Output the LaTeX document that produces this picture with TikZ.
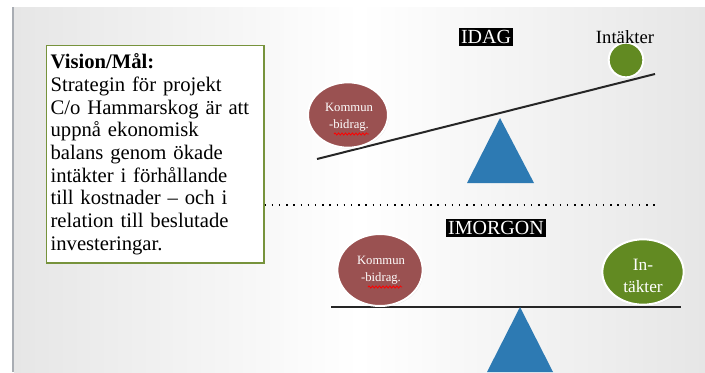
\documentclass[tikz,border=0pt]{standalone}
\usepackage{fontspec}
\setmainfont{Liberation Serif}
\usepackage{tikz}
\usetikzlibrary{shapes.geometric, positioning, shadows, decorations.pathmorphing}
\definecolor{boxgreen}{HTML}{77933C}
\definecolor{weightred}{HTML}{9A5151}
\definecolor{weightgreen}{HTML}{628A22}
\definecolor{pivotblue}{HTML}{2D7AB3}
\definecolor{slidegray}{HTML}{E6E6E6}
\definecolor{edgegray}{HTML}{A9ADB3}
\tikzstyle{vision} = [rectangle, draw=boxgreen, line width=0.9pt, fill=white, text width=157pt, minimum width=163pt, minimum height=163pt, align=left, inner sep=2.5pt, font=\fontsize{15.5}{17}\selectfont]
\tikzstyle{daylabel} = [rectangle, fill=black, text=white, inner sep=1.5pt, font=\fontsize{15}{17}\selectfont]
\tikzstyle{weight} = [ellipse, draw=white, line width=1.5pt, align=center, inner sep=0pt, drop shadow={opacity=0.2, shadow xshift=0.6pt, shadow yshift=-0.8pt}]
\tikzstyle{weighttext} = [text=white, align=center, inner sep=0pt]
\tikzstyle{beam} = [line width=1.5pt, draw=black!85]
\tikzstyle{pivot} = [fill=pivotblue]
\tikzstyle{squiggle} = [red, line width=0.6pt, decorate, decoration={snake, amplitude=0.8pt, segment length=2.6pt}]

\begin{document}
\begin{tikzpicture}[x=0.75pt, y=-0.75pt]
\useasboundingbox (0,0) rectangle (705,372);
% slide background
\fill[white] (0,0) rectangle (705,372);
\shade[left color=slidegray, right color=slidegray, middle color=white] (14,7) rectangle (705,372);
\draw[edgegray, line width=1.5pt] (13,7) -- (13,372);

\node[vision, anchor=north west] (vision) at (46,45) {\textbf{Vision/Mål:}\\
Strategin för projekt\\
C/o Hammarskog är att\\
uppnå ekonomisk\\
balans genom ökade\\
intäkter i förhållande\\
till kostnader – och i\\
relation till beslutade\\
investeringar.};

% today
\coordinate (beamL) at (317,159);
\coordinate (beamR) at (655,74);
\draw[beam] (beamL) -- (beamR);
\fill[pivot] (500,118) -- (534,183) -- (467,183) -- cycle;
\node[weight, fill=weightred, minimum width=60pt, minimum height=49pt] (kommun1) at (348,115) {};
\node[weighttext, font=\fontsize{9.5}{12.5}\selectfont] (kommun1text) at (349,117) {Kommun\\-bidrag.};
\draw[squiggle] ([shift={(-14,19)}]kommun1.center) -- ([shift={(21,19)}]kommun1.center);
\node[weight, fill=weightgreen, minimum width=26pt, minimum height=26pt] (intakt1) at (626,60) {};
\node[font=\fontsize{14}{16}\selectfont] (intaktlabel) at (625,37) {Intäkter};
\node[daylabel] (idag) at (486,37) {IDAG};

% divider
\coordinate (dotend) at (655,205);
\draw[line width=1.3pt, dash pattern=on 1.1pt off 4.3pt] (vision.east |- dotend) -- (dotend);

% tomorrow
\node[daylabel] (imorgon) at (496,228) {IMORGON};
\coordinate (beam2L) at (331,307);
\coordinate (beam2R) at (681,307);
\draw[beam] (beam2L) -- (beam2R);
\fill[pivot] (520,307) -- (553,372) -- (487,372) -- cycle;
\node[weight, fill=weightred, minimum width=64pt, minimum height=54pt] (kommun2) at (380,270) {};
\node[weighttext, font=\fontsize{9.5}{12.5}\selectfont] (kommun2text) at (381,270) {Kommun\\-bidrag.};
\draw[squiggle] ([shift={(-12,17)}]kommun2.center) -- ([shift={(22,17)}]kommun2.center);
\node[weight, fill=weightgreen, minimum width=61pt, minimum height=49pt] (intakt2) at (643,272) {};
\node[weighttext, font=\fontsize{13}{16}\selectfont] (intakt2text) at (643,276) {In-\\täkter};
\end{tikzpicture}
\end{document}
